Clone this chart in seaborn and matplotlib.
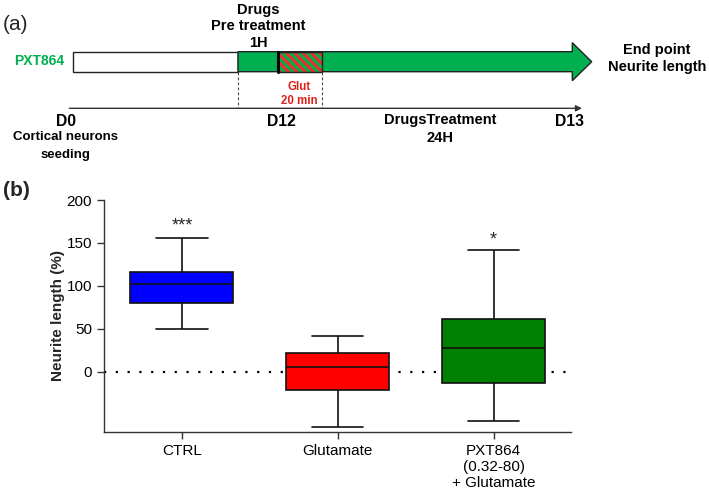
import numpy as np
import pandas as pd
import seaborn as sns
import matplotlib.pyplot as plt
from matplotlib.patches import Rectangle, Polygon

# five-number summaries: low whisker, Q1, median, Q3, high whisker
groups = ["CTRL", "Glutamate", "PXT864\n(0.32-80)\n+ Glutamate"]
ctrl = [50, 80.4, 101.8, 116.5, 156]
glut = [-65, -21.3, 5.8, 21.4, 41.6]
pxt = [-57.8, -13.6, 27.2, 61.4, 141.8]
box_colors = ["#0000ff", "#ff0000", "#008000"]
stars = ["***", "", "*"]
star_y = [170, None, 154]

GREEN = "#00b050"
FONT = "Liberation Sans"

sns.set_theme(style="ticks")
plt.rcParams.update({
    "font.family": [FONT, "DejaVu Sans"],
    "axes.edgecolor": "#333333",
    "axes.linewidth": 1.0,
    "xtick.color": "#333333",
    "ytick.color": "#333333",
    "xtick.labelcolor": "black",
    "ytick.labelcolor": "black",
})

df = pd.DataFrame({
    "group": np.repeat(groups, 5),
    "value": ctrl + glut + pxt,
})

fig = plt.figure(figsize=(7.09, 4.93), dpi=100)

# ---- panel (b): box plot ----
ax = fig.add_axes([0.1467, 0.1243, 0.6593, 0.47])
ax.axhline(0, color="black", linestyle=(0, (1, 4.3)), linewidth=1.6, zorder=0)
sns.boxplot(data=df, x="group", y="value", hue="group", palette=box_colors,
            width=0.66, whis=np.inf, linecolor="#111111", linewidth=1.2,
            saturation=1, legend=False, ax=ax, zorder=2)
ax.set_xlim(-0.5, 2.5)
ax.set_ylim(-70, 200)
ax.set_yticks([0, 50, 100, 150, 200])
ax.tick_params(axis="both", labelsize=11, length=5, width=1)
ax.set_xlabel("")
ax.set_ylabel("Neurite length (%)", fontsize=11, fontweight="bold", labelpad=1)
for i, (s, y) in enumerate(zip(stars, star_y)):
    if s:
        ax.text(i, y, s, ha="center", va="center", fontsize=13)
sns.despine(ax=ax)
ax.spines["left"].set_bounds(-70, 200)

# ---- panel (a): timeline schematic (pixel coordinates of the figure) ----
ov = fig.add_axes([0, 0, 1, 1], facecolor="none")
ov.set_xlim(0, 709)
ov.set_ylim(493, 0)
ov.axis("off")

bold = dict(fontweight="bold", fontsize=10.5, ha="center", va="center", color="black")

ov.text(3, 25, "(a)", fontsize=15, ha="left", va="center")
ov.text(3, 191, "(b)", fontsize=15, fontweight="bold", ha="left", va="center")

ov.text(39, 61, "PXT864", color=GREEN, fontweight="bold", fontsize=10,
        ha="center", va="center")
ov.add_patch(Rectangle((73.3, 51.7), 164.7, 20, facecolor="white",
                       edgecolor="#222222", linewidth=1))
arrow = Polygon([(238, 51.7), (572.3, 51.7), (572.3, 42.7), (591.7, 61.7),
                 (572.3, 80.7), (572.3, 71.7), (238, 71.7)], closed=True,
                facecolor=GREEN, edgecolor="#222222", linewidth=1)
ov.add_patch(arrow)
plt.rcParams["hatch.linewidth"] = 2.2
ov.add_patch(Rectangle((277.7, 51.7), 44, 20, facecolor=GREEN,
                       edgecolor="#e8302a", hatch="\\\\\\\\", linewidth=0))
ov.add_patch(Rectangle((277.7, 51.7), 44, 20, facecolor="none",
                       edgecolor="#222222", linewidth=1))
ov.plot([277.7, 277.7], [51.7, 71.7], color="black", linewidth=2.2)

for xv in [238, 321.7]:
    ov.plot([xv, xv], [71.7, 108.3], color="#444444", linewidth=0.8,
            linestyle=(0, (2.5, 2)))

ov.text(299.3, 87.3, "Glut", color="#e0201a", fontweight="bold", fontsize=8.3,
        ha="center", va="center")
ov.text(299.3, 100.7, "20 min", color="#e0201a", fontweight="bold", fontsize=8.3,
        ha="center", va="center")

ov.annotate("", xy=(582, 108.3), xytext=(69.3, 108.3),
            arrowprops=dict(arrowstyle="-|>", color="#333333", lw=1,
                            mutation_scale=9, shrinkA=0, shrinkB=0))

ov.text(258, 10, "Drugs", **bold)
ov.text(258, 26, "Pre treatment", **bold)
ov.text(258, 42.7, "1H", **bold)
ov.text(66.3, 121, "D0", **{**bold, "fontsize": 11.3})
ov.text(65.7, 137.5, "Cortical neurons", **{**bold, "fontsize": 9.5})
ov.text(65.7, 155, "seeding", **{**bold, "fontsize": 9.5})
ov.text(281.7, 121, "D12", **{**bold, "fontsize": 11.3})
ov.text(440, 120, "DrugsTreatment", **bold)
ov.text(440, 138, "24H", **bold)
ov.text(570, 121, "D13", **{**bold, "fontsize": 11.3})
ov.text(656.7, 50, "End point", **bold)
ov.text(656.7, 66.7, "Neurite length", **bold)

fig.savefig("out.png", dpi=100)
